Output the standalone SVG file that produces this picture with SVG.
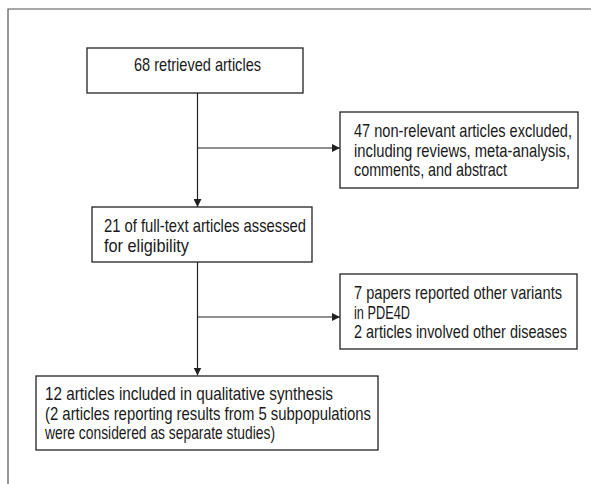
<svg xmlns="http://www.w3.org/2000/svg" width="591" height="484" viewBox="0 0 591 484">
<style>
.box{fill:#fff;stroke:#222;stroke-width:1.3}
.ln{fill:none;stroke:#222;stroke-width:1.2}
text{font-family:"Liberation Sans",Arial,sans-serif;font-size:18.5px;fill:#1a1a1a}
</style>
<defs>
<marker id="ah" viewBox="0 0 10 10" refX="10" refY="5" markerWidth="8" markerHeight="8" markerUnits="userSpaceOnUse" orient="auto">
<path d="M0,0 L10,5 L0,10 Z" fill="#222"/>
</marker>
</defs>
<rect width="591" height="484" fill="#fff"/>
<path d="M8,484 V9 H591" fill="none" stroke="#555" stroke-width="1.2"/>
<g id="connectors">
<path class="ln" d="M197.5,93 V207" marker-end="url(#ah)"/>
<path class="ln" d="M197.5,148 H340" marker-end="url(#ah)"/>
<path class="ln" d="M197.5,262 V375.5" marker-end="url(#ah)"/>
<path class="ln" d="M197.5,317 H340" marker-end="url(#ah)"/>
</g>
<g id="n1">
<rect class="box" x="87" y="48" width="216" height="45"/>
<text x="134" y="70.5" textLength="127" lengthAdjust="spacingAndGlyphs">68 retrieved articles</text>
</g>
<g id="n2">
<rect class="box" x="340" y="112" width="238" height="76"/>
<text x="354" y="137" textLength="218" lengthAdjust="spacingAndGlyphs">47 non-relevant articles excluded,</text>
<text x="354" y="156.5" textLength="216" lengthAdjust="spacingAndGlyphs">including reviews, meta-analysis,</text>
<text x="354" y="176" textLength="153" lengthAdjust="spacingAndGlyphs">comments, and abstract</text>
</g>
<g id="n3">
<rect class="box" x="92" y="207" width="220" height="55"/>
<text x="104" y="232" textLength="202" lengthAdjust="spacingAndGlyphs">21 of full-text articles assessed</text>
<text x="104" y="251.5" textLength="85" lengthAdjust="spacingAndGlyphs">for eligibility</text>
</g>
<g id="n4">
<rect class="box" x="340" y="274" width="237" height="75"/>
<text x="354" y="299" textLength="208" lengthAdjust="spacingAndGlyphs">7 papers reported other variants</text>
<text x="354" y="318.5" textLength="56" lengthAdjust="spacingAndGlyphs">in PDE4D</text>
<text x="354" y="338" textLength="213" lengthAdjust="spacingAndGlyphs">2 articles involved other diseases</text>
</g>
<g id="n5">
<rect class="box" x="36" y="376" width="342" height="74"/>
<text x="45" y="400" textLength="288" lengthAdjust="spacingAndGlyphs">12 articles included in qualitative synthesis</text>
<text x="45" y="419.5" textLength="326" lengthAdjust="spacingAndGlyphs">(2 articles reporting results from 5 subpopulations</text>
<text x="45" y="439" textLength="230" lengthAdjust="spacingAndGlyphs">were considered as separate studies)</text>
</g>
</svg>
